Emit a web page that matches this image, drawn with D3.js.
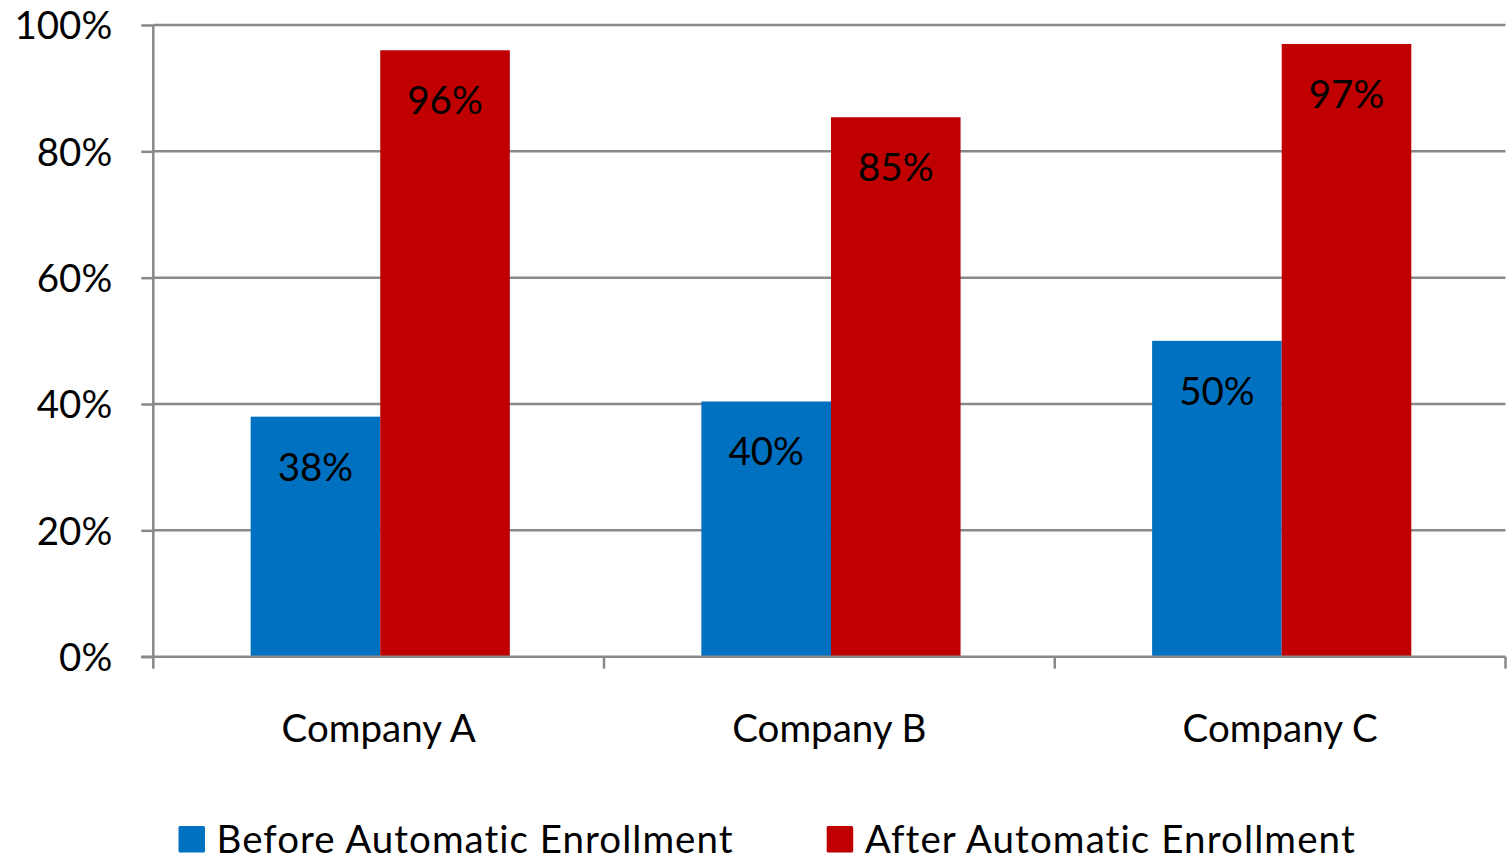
<!DOCTYPE html>
<html>
<head>
<meta charset="utf-8">
<script src="https://cdn.jsdelivr.net/npm/d3@7"></script>
<style>
  html, body { margin: 0; padding: 0; background: #fff; }
  svg { display: block; font-family: Lato, "Open Sans", sans-serif; font-variant-ligatures: none; font-feature-settings: "liga" 0, "clig" 0; }
</style>
</head>
<body>
<svg id="chart" width="1507" height="857"></svg>
<script>
const categories = ["Company A", "Company B", "Company C"];
const seriesNames = ["Before Automatic Enrollment", "After Automatic Enrollment"];
const beforeValues = [38, 40.4, 50];
const afterValues = [96, 85.4, 97];
const yTicks = [0, 20, 40, 60, 80, 100];
const colors = ["#0070C0", "#C00000"];

const svg = d3.select("#chart");
const margin = { left: 153.3, right: 1.5, top: 25, bottom: 200.3 };
const W = 1507, H = 857;
const plotW = W - margin.left - margin.right;
const plotH = H - margin.top - margin.bottom;
const gridColor = "#898989";
const fontSize = 38.5;

const x0 = d3.scaleBand().domain(categories).range([0, plotW]).paddingInner(0).paddingOuter(0);
const x1 = d3.scaleBand().domain(seriesNames)
  .range([x0.bandwidth() * 0.216, x0.bandwidth() * 0.791]).padding(0);
const y = d3.scaleLinear().domain([0, 100]).range([plotH, 0]);

const g = svg.append("g").attr("transform", `translate(${margin.left},${margin.top})`);

// gridlines
g.append("g").selectAll("line").data(yTicks.filter(d => d > 0)).join("line")
  .attr("x1", 0).attr("x2", plotW)
  .attr("y1", d => y(d)).attr("y2", d => y(d))
  .attr("stroke", gridColor).attr("stroke-width", 2.5);

// bars
const data = categories.map((c, i) => ({ cat: c, vals: [beforeValues[i], afterValues[i]] }));
const groups = g.append("g").selectAll("g").data(data).join("g")
  .attr("transform", d => `translate(${x0(d.cat)},0)`);
groups.selectAll("rect").data(d => d.vals.map((v, j) => ({ v, s: seriesNames[j], j })))
  .join("rect")
  .attr("x", d => x1(d.s)).attr("width", x1.bandwidth())
  .attr("y", d => y(d.v)).attr("height", d => y(0) - y(d.v))
  .attr("fill", d => colors[d.j]);
groups.selectAll("text").data(d => d.vals.map((v, j) => ({ v, s: seriesNames[j], j })))
  .join("text")
  .attr("x", d => x1(d.s) + x1.bandwidth() / 2)
  .attr("y", d => y(d.v) + 64)
  .attr("text-anchor", "middle")
  .attr("font-size", fontSize)
  .attr("fill", "#000")
  .text(d => Math.round(d.v) + "%");

// y axis
const yAxis = d3.axisLeft(y).tickValues(yTicks).tickFormat(d => d + "%").tickSize(12).tickPadding(29);
const ya = g.append("g").call(yAxis);
ya.select(".domain").remove();
ya.selectAll(".tick line").attr("stroke", gridColor).attr("stroke-width", 2.5);
ya.selectAll(".tick text").attr("font-size", fontSize).attr("font-family", "Lato, sans-serif")
  .attr("fill", "#000").attr("dy", "0.36em");
g.append("line").attr("x1", 0).attr("x2", 0).attr("y1", 0).attr("y2", plotH + 12)
  .attr("stroke", gridColor).attr("stroke-width", 2.5);

// x axis
g.append("line").attr("x1", -12).attr("x2", plotW).attr("y1", plotH).attr("y2", plotH)
  .attr("stroke", gridColor).attr("stroke-width", 2.5);
const boundaries = categories.map(c => x0(c) + x0.bandwidth());
g.append("g").selectAll("line").data(boundaries).join("line")
  .attr("x1", d => d).attr("x2", d => d).attr("y1", plotH).attr("y2", plotH + 12)
  .attr("stroke", gridColor).attr("stroke-width", 2.5);
g.append("g").selectAll("text").data(categories).join("text")
  .attr("x", d => x0(d) + x0.bandwidth() / 2)
  .attr("y", plotH + 85)
  .attr("text-anchor", "middle")
  .attr("font-size", fontSize)
  .attr("fill", "#000")
  .text(d => d);

// legend
const legendX = [178.5, 826.7];
const legendTextW = [516, 490];
const legend = svg.append("g").selectAll("g").data(seriesNames).join("g")
  .attr("transform", (d, i) => `translate(${legendX[i]},826)`);
legend.append("rect").attr("width", 26.5).attr("height", 26.5).attr("rx", 1.5)
  .attr("fill", (d, i) => colors[i]);
legend.append("text").attr("x", 38).attr("y", 26.5)
  .attr("font-size", fontSize).attr("fill", "#000")
  .attr("textLength", (d, i) => legendTextW[i]).attr("lengthAdjust", "spacing")
  .text(d => d);
</script>
</body>
</html>
